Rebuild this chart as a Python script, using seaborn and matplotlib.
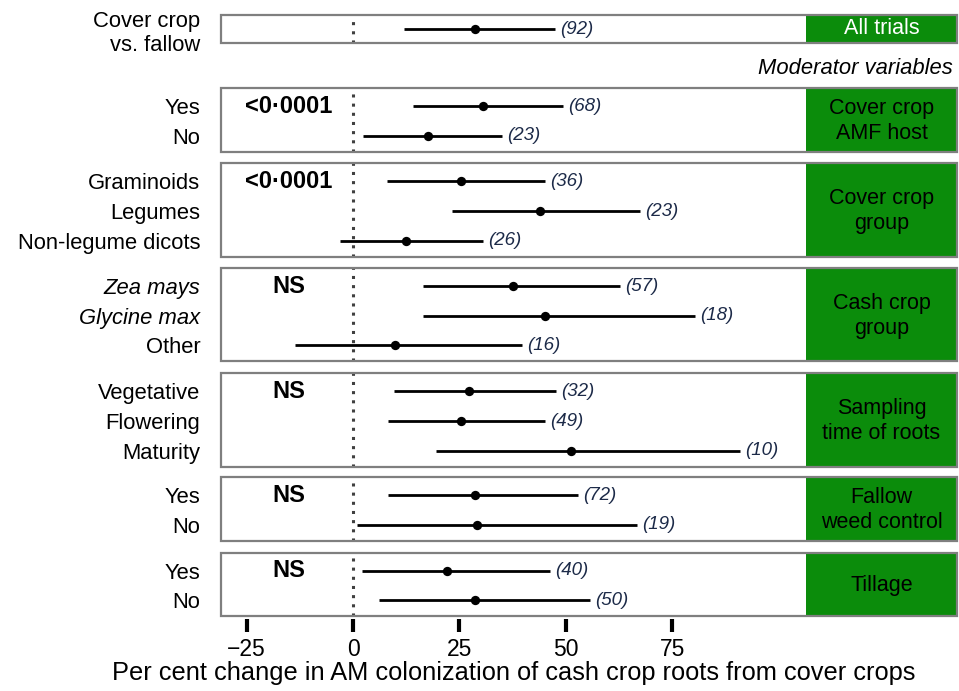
import pandas as pd
import matplotlib.pyplot as plt
import seaborn as sns
from matplotlib.patches import Rectangle

# data
labels = ['Cover crop\nvs. fallow',
          'Yes', 'No',
          'Graminoids', 'Legumes', 'Non-legume dicots',
          'Zea mays', 'Glycine max', 'Other',
          'Vegetative', 'Flowering', 'Maturity',
          'Yes', 'No',
          'Yes', 'No']
panel = [0, 1, 1, 2, 2, 2, 3, 3, 3, 4, 4, 4, 5, 5, 6, 6]
mean = [28.7, 30.5, 17.6, 25.4, 43.9, 12.5, 37.6, 45.1, 9.9, 27.3, 25.4, 51.2, 28.7, 29.1, 22.0, 28.7]
lower = [12.0, 14.1, 2.3, 8.0, 23.3, -3.1, 16.4, 16.4, -13.6, 9.7, 8.3, 19.6, 8.3, 0.9, 2.0, 6.1]
upper = [47.5, 49.3, 35.0, 45.1, 67.4, 30.5, 62.7, 80.4, 39.7, 47.7, 45.1, 90.9, 52.9, 66.7, 46.3, 55.7]
n_obs = [92, 68, 23, 36, 23, 26, 57, 18, 16, 32, 49, 10, 72, 19, 40, 50]

group_names = ['All trials', 'Cover crop\nAMF host', 'Cover crop\ngroup', 'Cash crop\ngroup',
               'Sampling\ntime of roots', 'Fallow\nweed control', 'Tillage']
p_values = ['', '<0·0001', '<0·0001', 'NS', 'NS', 'NS', 'NS']
x_ticks = [-25, 0, 25, 50, 75]

df = pd.DataFrame({'label': labels, 'panel': panel, 'mean': mean,
                   'lower': lower, 'upper': upper, 'n': n_obs})
df['row'] = df.groupby('panel').cumcount()

sns.set_style('white')
plt.rcParams['font.family'] = ['Liberation Sans', 'DejaVu Sans']
plt.rcParams['text.color'] = 'black'
plt.rcParams['xtick.color'] = 'black'
plt.rcParams['ytick.color'] = 'black'

W, H = 959, 691
fig = plt.figure(figsize=(W / 100, H / 100), dpi=100)

# panel layout in pixels (top, height)
tops = [15, 88, 163, 268, 373, 477, 553]
heights = [28, 64, 94, 93, 94, 64, 63]
px_left, px_right, px_strip = 221, 957, 806
px_zero, px_per_unit = 353, 4.256
xmin = (px_left - px_zero) / px_per_unit
xmax = (px_right - px_zero) / px_per_unit
strip_x = (px_strip - px_zero) / px_per_unit

green = '#0b8c0b'
edge = '#7f7f7f'

for i, name in enumerate(group_names):
    ax = fig.add_axes([px_left / W, 1 - (tops[i] + heights[i]) / H,
                       (px_right - px_left) / W, heights[i] / H])
    sub = df[df.panel == i]
    nrow = len(sub)
    ax.hlines(sub['row'], sub['lower'], sub['upper'], color='black', lw=2, zorder=2)
    sns.scatterplot(data=sub, x='mean', y='row', color='black', s=45,
                    edgecolor='black', linewidth=0, ax=ax, zorder=3)
    for _, r in sub.iterrows():
        ax.text(r['upper'] + 1.2, r['row'], f"({r['n']})", style='italic',
                fontsize=13.5, color='#1c2a48', va='center', ha='left')
    ax.axvline(0, color='#404040', ls=(0, (1, 2)), lw=2.2, zorder=1)
    ax.axvspan(strip_x, xmax, color=green, lw=0, zorder=0)
    ax.text((strip_x + xmax) / 2, (nrow - 1) / 2, name, ha='center', va='center',
            fontsize=15.5, color='white' if i == 0 else 'black', linespacing=1.25)
    if p_values[i]:
        ax.text(-15, 0, p_values[i], ha='center', va='center', fontsize=17,
                fontweight='bold')
    ax.set_xlim(xmin, xmax)
    if nrow == 1:
        ax.set_ylim(0.47, -0.47)
    else:
        ax.set_ylim(nrow - 1 + 0.54, -0.61)
    ax.set_yticks(sub['row'])
    ax.set_yticklabels(sub['label'], fontsize=15.8)
    for t, lab in zip(ax.get_yticklabels(), sub['label']):
        if lab in ('Zea mays', 'Glycine max'):
            t.set_style('italic')
    ax.tick_params(axis='y', length=9, width=3, color='black', pad=6)
    ax.set_xlabel('')
    ax.set_ylabel('')
    for s in ax.spines.values():
        s.set_visible(False)
    ax.add_patch(Rectangle((0, 0), 1, 1, transform=ax.transAxes, fill=False,
                           edgecolor=edge, lw=1.6, clip_on=False, zorder=5))
    if i == len(group_names) - 1:
        ax.spines['bottom'].set_position(('outward', 2))
        ax.set_xticks(x_ticks)
        ax.set_xticklabels(['\u221225', '0', '25', '50', '75'], fontsize=16.5)
        ax.tick_params(axis='x', length=9, width=3, color='black', pad=5, bottom=True)
    else:
        ax.set_xticks([])

fig.text(953 / W, 1 - 68 / H, 'Moderator variables', style='italic', fontsize=15.8,
         ha='right', va='center')
fig.text((px_left + px_strip) / 2 / W, 1 - 673 / H,
         'Per cent change in AM colonization of cash crop roots from cover crops',
         fontsize=18.3, ha='center', va='center')

plt.savefig('out.png', dpi=100)
